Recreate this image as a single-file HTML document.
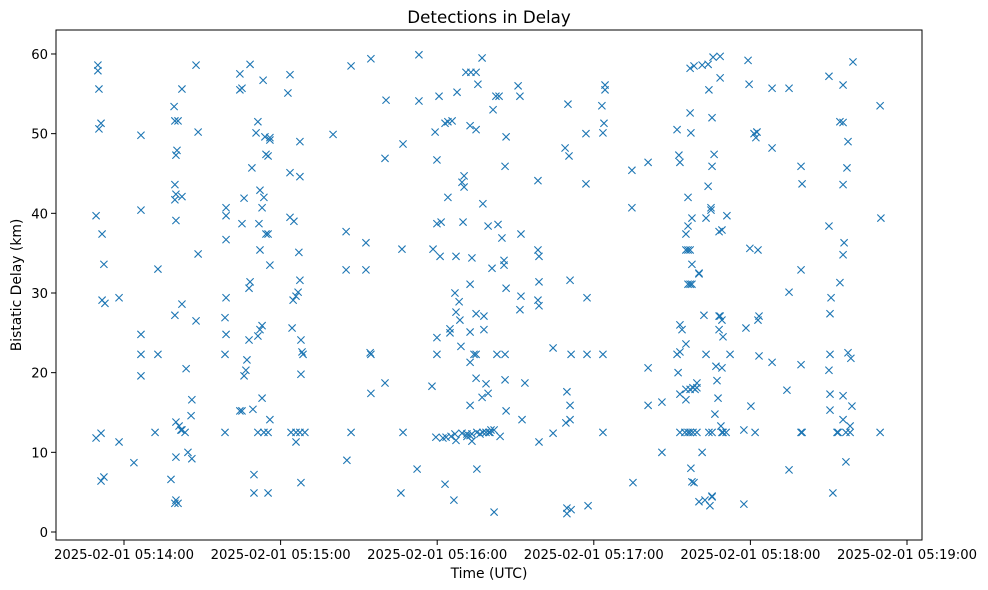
<!DOCTYPE html>
<html><head><meta charset="utf-8"><style>
html,body{margin:0;padding:0;background:#fff;}
svg{display:block;font-family:"DejaVu Sans","Liberation Sans",sans-serif;}
</style></head><body>
<svg id="chart" width="988" height="590">
<rect x="0" y="0" width="988" height="590" fill="#fff"/>
<text x="489" y="23" font-size="16.7" text-anchor="middle">Detections in Delay</text>
<text x="489" y="578" font-size="13.9" text-anchor="middle">Time (UTC)</text>
<text transform="translate(21,285) rotate(-90)" font-size="13.9" text-anchor="middle">Bistatic Delay (km)</text>
<g id="marks"></g>
<g id="axes"></g>
</svg>
<script>
// seconds after 2025-02-01 05:14:00 UTC
const xTickLabels = ["2025-02-01 05:14:00","2025-02-01 05:15:00","2025-02-01 05:16:00","2025-02-01 05:17:00","2025-02-01 05:18:00","2025-02-01 05:19:00"];
const xTickValues = [0,60,120,180,240,300];
const yTickValues = [0,10,20,30,40,50,60];
const times = [
-10.7,-10.7,-10,-10,-9.6,-9.6,-8.8,-8.8,-8.8,-8.4,-8.4,-7.7,-7.3,-7.7,-1.9,-1.9,3.8,6.5,6.5,6.5,6.5,6.5,11.9,13,13,
18,19.2,19.5,19.9,20.3,19.5,19.9,22.2,19.5,19.9,19.5,22.2,28.4,20.7,22.2,19.9,21.1,21.8,19.9,23.8,23.4,24.5,26,25.7,26,27.6,27.6,28.4,19.9,20.7,19.5,22.2,
38.7,39.1,39.1,39.1,39.1,38.7,39.1,38.7,44.4,45.2,44.4,46,45.2,44.4,45.2,46,46.7,47.1,47.9,47.9,48.3,48.3,49,49.4,49.8,49.8,50.6,51.3,51.3,52.1,51.7,52.1,52.9,52.1,51.3,52.9,52.9,53.3,53.6,54,54.4,54.4,55.2,55.2,55.9,55.2,55.9,55.2,55.9,55.9,53.6,
62.8,63.6,63.6,63.6,64.4,64.8,65.1,65.9,66.7,64,65.9,65.9,67.4,69.3,67.4,67.4,67,67.4,67.8,68.2,68.6,67.8,67.8,
80.1,85.1,85.1,85.4,87,87,92.7,92.7,94.3,94.6,94.6,94.6,100,100.4,100,106.1,106.9,106.5,106.9,112.3,113,113,
118,118.4,119.2,119.5,119.9,119.9,119.9,119.9,120.7,121.1,121.5,122.2,123,123,123.4,124.1,124.1,124.9,124.9,125.7,125.3,126.8,127.6,127.2,126.4,127.2,126.8,128.4,127.2,128.7,129.1,129.5,130.3,130.3,131,129.5,129.9,131.4,131.4,132.6,132.6,132.6,132.6,132.6,132.9,133.3,133.3,133.3,134.1,134.9,134.9,134.9,134.9,134.9,135.2,135.2,135.6,136.4,137.2,137.5,137.5,137.9,137.9,138.7,138.7,139.5,139.5,139.8,140.2,140.6,141,141.4,141.8,141.8,142.5,142.9,143.7,144.1,143.3,144.8,145.6,145.6,146,146,146,146.4,146.4,146.4,132.6,137.2,
151,151.7,152.1,152.1,151.7,152.5,153.6,158.6,158.6,159,159,158.6,159,159,164.4,164.4,169,169.7,170.1,170.5,170.9,171.3,170.9,170.9,169.3,169.7,169.7,171.3,177,177,177.4,177.4,177.8,183.1,183.5,183.9,184.3,184.3,183.5,183.5,
194.6,194.6,195,200.8,200.8,200.8,206.1,206.1,211.9,212.6,213,211.9,213,212.3,213,213,213.8,214.9,213,216.1,216.9,218,219.5,215.3,215.3,215.3,216.1,215.3,216.1,216.9,216.1,216.9,217.6,216.1,216.9,217.6,218.4,216.9,217.2,217.6,218,218.8,219.5,216.9,215.3,217.2,217.6,218.4,220.3,219.5,220.3,220.3,221.5,221.5,222.6,222.2,223,223.8,224.1,224.9,224.9,223.8,225.3,225.3,225.3,225.3,225.7,226.1,224.5,223,225.3,224.1,226.4,226.8,227.2,227.6,228,228.4,228.4,229.1,228,228.4,229.1,229.5,229.1,228.7,229.5,230.7,231,232.2,228,229.1,
237.5,237.5,238.3,239.1,239.5,239.8,240.2,241.4,241.8,242.1,242.5,242.9,242.5,243.3,242.9,243.3,248.3,248.3,248.3,254,254.8,254.8,254.8,259.4,259.4,259.8,259.4,259.8,259.4,270.1,270.1,270.1,270.9,270.5,270.5,270.5,270.5,271.6,273.2,273.6,274.3,275.5,275.5,275.5,275.9,275.5,275.5,275.5,276.6,278.2,278.2,276.6,277.4,277,277.4,278.5,278.9,279.3,274.3,289.7,290,289.7
];
const delays = [
39.7,11.8,58.6,57.9,55.6,50.6,51.3,6.4,12.4,37.4,29.1,33.6,28.7,6.9,29.4,11.3,8.7,49.8,40.4,24.8,22.3,19.6,12.5,33.0,22.3,
6.6,53.4,51.6,47.3,47.9,43.6,42.4,42.1,41.7,39.1,27.2,28.6,34.9,51.6,55.6,13.8,13.3,12.8,9.4,20.5,12.5,10,16.6,14.6,9.2,26.5,58.6,50.2,4.0,3.6,3.6,12.8,
26.9,29.4,40.7,39.7,36.7,22.3,24.8,12.5,57.5,55.7,55.5,41.9,38.7,15.2,15.2,19.6,20.3,21.6,24.1,30.6,31.4,58.7,45.7,15.4,7.2,4.9,50.1,12.5,51.5,42.9,38.7,35.4,40.7,25.4,24.6,25.9,16.8,56.7,12.5,49.6,47.4,37.4,37.4,47.2,33.5,4.9,14.1,12.5,49.5,49.2,42,
55.1,57.4,45.1,39.5,25.6,29.1,39.0,29.6,30.1,12.5,12.5,11.3,12.5,12.5,44.6,49.0,35.1,31.6,24.1,22.6,22.3,19.8,6.2,
49.9,37.7,32.9,9.0,58.5,12.5,36.3,32.9,22.5,22.3,17.4,59.4,18.7,54.2,46.9,4.9,12.5,35.5,48.7,7.9,59.9,54.1,
18.3,35.5,50.2,11.9,38.7,46.7,24.4,22.3,54.7,34.6,38.9,11.8,6.0,51.3,11.9,42.0,51.5,25.0,25.5,51.6,12.0,12.3,55.2,34.6,4.0,27.6,30.0,28.9,11.5,26.6,23.3,43.9,43.3,44.7,57.7,12.4,38.9,12.3,12.0,21.3,25.1,31.1,51.0,12.1,57.7,11.4,12.3,34.4,22.3,50.5,57.7,27.4,22.3,19.3,7.9,12.5,56.2,12.3,59.5,12.5,41.2,25.4,27.1,12.5,18.6,17.4,38.4,12.5,12.5,12.8,33.1,53.0,12.8,2.5,54.7,22.3,54.7,12.0,38.6,36.9,34.1,33.5,19.1,22.3,45.9,15.2,49.6,30.6,15.9,16.9,
56.0,54.7,37.4,29.6,27.9,14.1,18.7,44.1,35.4,34.6,31.4,29.1,28.4,11.3,23.1,12.4,48.2,17.6,53.7,47.2,31.6,22.3,15.9,14.1,13.7,3.0,2.3,2.8,50.0,43.7,29.4,22.3,3.3,53.5,50.1,51.3,56.1,55.5,22.3,12.5,
45.4,40.7,6.2,46.4,20.6,15.9,16.3,10.0,50.5,47.3,46.4,22.3,22.6,20.0,17.3,26.0,25.4,12.5,12.5,12.5,12.5,12.5,12.5,16.6,23.6,37.4,38.4,35.4,35.4,35.4,31.1,31.1,31.1,42.0,52.6,33.6,58.5,58.2,50.1,39.4,18.1,17.9,18.1,17.9,17.9,8.0,6.3,6.2,3.8,18.7,32.4,32.5,10.0,58.6,4.0,27.2,39.4,43.4,55.5,40.7,40.4,58.7,4.4,4.5,45.9,52.0,59.6,47.4,3.3,22.3,12.5,12.5,14.8,20.8,19.0,16.8,25.4,57.0,59.7,37.9,37.7,27.1,26.6,24.5,20.6,13.3,12.5,12.5,39.7,22.3,27.1,12.5,12.8,
3.5,25.6,59.2,56.2,35.6,15.8,50.0,12.5,49.5,50.2,35.4,50.2,27.1,26.6,22.1,21.3,55.7,48.2,17.8,55.7,30.1,7.8,21.0,45.9,43.7,32.9,12.5,12.5,20.3,57.2,38.4,29.4,27.4,22.3,15.3,17.3,4.9,12.5,12.5,51.5,51.4,56.1,43.6,36.3,34.8,17.1,14.1,8.8,12.5,13.3,12.5,49.0,45.7,22.5,21.8,15.8,59.0,31.3,12.5,39.4,53.5,12.5
];
const NS="http://www.w3.org/2000/svg";
const L=56,R=922,T=30,B=540;
function xs(t){return 124+t*(156.6/60);}
function ys(v){return 532-v*7.967;}
const marks=document.getElementById('marks');
const n=Math.min(times.length,delays.length);
for(let i=0;i<n;i++){
  const x=xs(times[i]),y=ys(delays[i]),s=3.6;
  const p=document.createElementNS(NS,'path');
  p.setAttribute('d',`M${x-s},${y-s}L${x+s},${y+s}M${x-s},${y+s}L${x+s},${y-s}`);
  p.setAttribute('stroke','#1f77b4');p.setAttribute('stroke-width','1.1');p.setAttribute('fill','none');
  
  
  marks.appendChild(p);
}
const ax=document.getElementById('axes');
const frame=document.createElementNS(NS,'rect');
frame.setAttribute('x',L);frame.setAttribute('y',T);frame.setAttribute('width',R-L);frame.setAttribute('height',B-T);
frame.setAttribute('fill','none');frame.setAttribute('stroke','#000');frame.setAttribute('stroke-width','1');


ax.appendChild(frame);
xTickValues.forEach((v,i)=>{
  const x=xs(v);
  const l=document.createElementNS(NS,'line');
  l.setAttribute('x1',x);l.setAttribute('x2',x);l.setAttribute('y1',B);l.setAttribute('y2',B+5);l.setAttribute('stroke','#000');
  
  
  ax.appendChild(l);
  const t=document.createElementNS(NS,'text');
  t.setAttribute('x',x);t.setAttribute('y',B+19);t.setAttribute('font-size','13.2');t.setAttribute('text-anchor','middle');
  t.textContent=xTickLabels[i];
  
  
  ax.appendChild(t);
});
yTickValues.forEach(v=>{
  const y=ys(v);
  const l=document.createElementNS(NS,'line');
  l.setAttribute('x1',L-5);l.setAttribute('x2',L);l.setAttribute('y1',y);l.setAttribute('y2',y);l.setAttribute('stroke','#000');
  
  
  ax.appendChild(l);
  const t=document.createElementNS(NS,'text');
  t.setAttribute('x',L-8);t.setAttribute('y',y+5);t.setAttribute('font-size','13.2');t.setAttribute('text-anchor','end');
  t.textContent=String(v);
  
  
  ax.appendChild(t);
});
</script>
</body></html>
